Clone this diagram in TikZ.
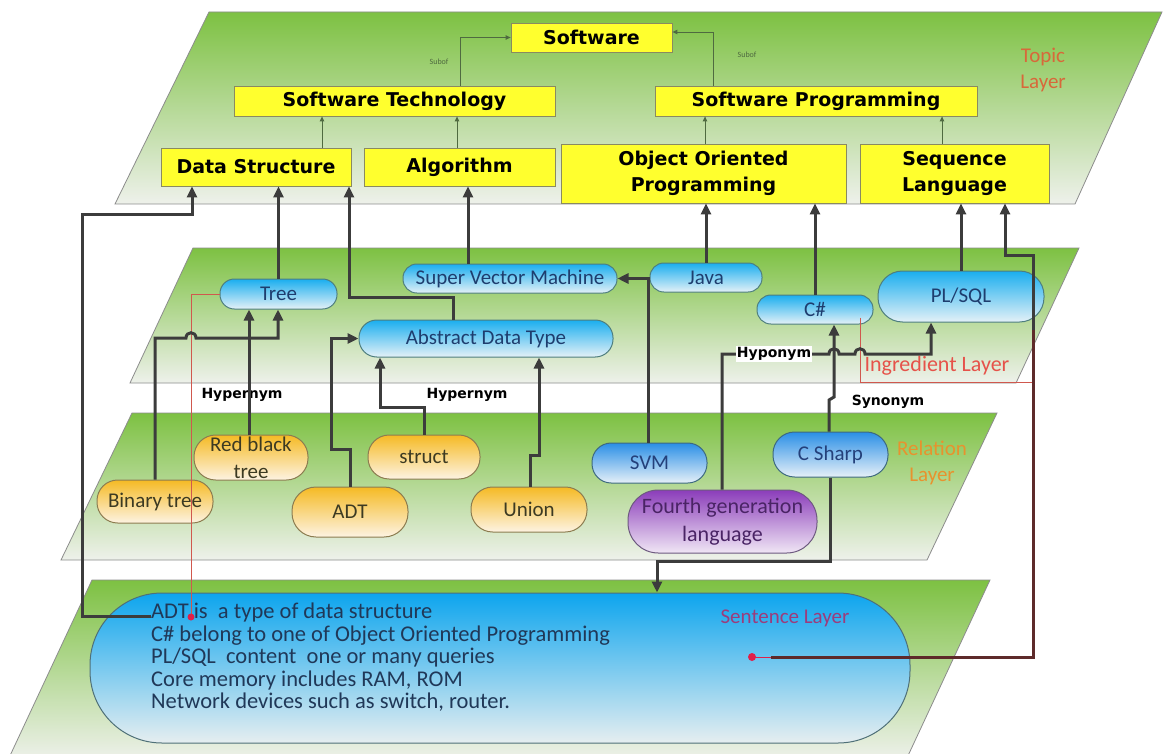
\documentclass[tikz,border=0pt]{standalone}
\usepackage{fontspec}
\setmainfont{Carlito}
\newfontfamily\headfont{DejaVu Sans}
\usetikzlibrary{arrows.meta}

\definecolor{planetop}{HTML}{7DC142}
\definecolor{planemid}{HTML}{ADD586}
\definecolor{planebot}{HTML}{EEF1EB}
\definecolor{planeedge}{HTML}{8C8C8C}
\definecolor{yfill}{HTML}{FFFF2E}
\definecolor{yedge}{HTML}{8A8A60}
\definecolor{bluetop}{HTML}{1AAEEF}
\definecolor{bluebot}{HTML}{E4F1F7}
\definecolor{blueedge}{HTML}{4E7E7E}
\definecolor{bluetext}{HTML}{1E3D6E}
\definecolor{orgtop}{HTML}{F5BA24}
\definecolor{orgbot}{HTML}{FDF3E2}
\definecolor{orgedge}{HTML}{8C7C50}
\definecolor{orgtext}{HTML}{3C3A22}
\definecolor{rbtop}{HTML}{2A8FE6}
\definecolor{rbbot}{HTML}{E6F0F8}
\definecolor{rbedge}{HTML}{3E6A80}
\definecolor{rbtext}{HTML}{24407A}
\definecolor{purtop}{HTML}{8B3DBA}
\definecolor{purbot}{HTML}{F0E6F5}
\definecolor{puredge}{HTML}{6E5A80}
\definecolor{purtext}{HTML}{4A2465}
\definecolor{senttop}{HTML}{0DA5EE}
\definecolor{sentbot}{HTML}{E6EEF0}
\definecolor{sentedge}{HTML}{4F7078}
\definecolor{senttext}{HTML}{203858}
\definecolor{linegrey}{HTML}{3C3C3C}
\definecolor{maroonline}{HTML}{5E2A2A}
\definecolor{redline}{HTML}{D0584E}
\definecolor{reddot}{HTML}{E0204A}
\definecolor{subofgreen}{HTML}{4F6A40}
\definecolor{topiclab}{HTML}{D8683A}
\definecolor{rellab}{HTML}{E8922E}
\definecolor{inglab}{HTML}{E6524A}
\definecolor{sentlab}{HTML}{9C3C7C}

\begin{document}
\begin{tikzpicture}[x=1pt,y=-1pt,
  plane/.style={draw=planeedge, line width=0.8pt, top color=planetop, middle color=planemid, bottom color=planebot},
  tbox/.style 2 args={draw=yedge, fill=yfill, line width=0.8pt, minimum width=#1pt, minimum height=#2pt,
    inner sep=0pt, align=center, font=\headfont\bfseries\fontsize{19}{26}\selectfont},
  pill/.style 2 args={minimum width=#1pt, minimum height=#2pt, rounded corners=#2*0.48pt,
    inner sep=0pt, align=center, line width=1pt},
  ingr/.style={top color=bluetop, bottom color=bluebot, draw=blueedge, text=bluetext, font=\fontsize{21}{24}\selectfont},
  rel/.style={top color=orgtop, bottom color=orgbot, draw=orgedge, text=orgtext, font=\fontsize{21}{27}\selectfont},
  relblue/.style={top color=rbtop, bottom color=rbbot, draw=rbedge, text=rbtext, font=\fontsize{21}{24}\selectfont},
  relpurple/.style={top color=purtop, bottom color=purbot, draw=puredge, text=purtext, font=\fontsize{22}{28}\selectfont},
  layerlab/.style={inner sep=0pt, align=center, font=\fontsize{21}{26}\selectfont},
  rellabel/.style={inner sep=1pt, font=\headfont\bfseries\fontsize{14}{16}\selectfont},
  suboflab/.style={inner sep=0pt, text=subofgreen, font=\fontsize{8}{9}\selectfont},
  arr/.style={draw=linegrey, line width=3pt, -{Triangle[length=11pt,width=10pt]}},
  thinarr/.style={draw=subofgreen, line width=0.9pt, -{Triangle[length=5pt,width=4.5pt]}},
  redthin/.style={draw=redline, line width=0.9pt}
]
\useasboundingbox (0,0) rectangle (1167,754);
\fill[white] (0,0) rectangle (1167,754);
\clip (0,0) rectangle (1167,754);

% the four layers
\draw[plane] (209,12) -- (1162,12) -- (1075,204) -- (115,204) -- cycle;
\draw[plane] (193,248) -- (1079,248) -- (1016,383) -- (130,383) -- cycle;
\draw[plane] (132,413) -- (997,413) -- (927,560) -- (61,560) -- cycle;
\draw[plane] (92,580) -- (990,580) -- (906,760) -- (8,760) -- cycle;

% sentence layer
\node[pill={820}{150}, top color=senttop, bottom color=sentbot, draw=sentedge] (sent) at (500,668) {};
\node[anchor=north west, inner sep=0pt, align=left, text=senttext, font=\fontsize{22.5}{22.5}\selectfont] (stext) at (151,603)
  {ADT is\ \ a type of data structure\\
   C\# belong to one of Object Oriented Programming\\
   PL/SQL\ \ content\ \ one or many queries\\
   Core memory includes RAM, ROM\\
   Network devices such as switch, router.};

% topic layer
\node[tbox={161}{29}] (sw) at (591.5,37.5) {Software};
\node[tbox={321}{30}] (st) at (394.5,101) {Software Technology};
\node[tbox={322}{30}] (sp) at (816,101) {Software Programming};
\node[tbox={190}{38}] (ds) at (256,167) {Data Structure};
\node[tbox={191}{38}] (alg) at (459.5,167) {Algorithm};
\node[tbox={285}{59}] (oop) at (703.5,173.5) {Object Oriented\\Programming};
\node[tbox={189}{59}] (seq) at (954.5,173.5) {Sequence\\Language};

% ingredient layer
\node[pill={117}{30}, ingr] (tree) at (278.5,294) {Tree};
\node[pill={214}{29}, ingr] (svmI) at (510,278.5) {Super Vector Machine};
\node[pill={254}{37}, ingr] (adtI) at (486,338.5) {Abstract Data Type};
\node[pill={112}{29}, ingr] (java) at (706,277.5) {Java};
\node[pill={116}{29}, ingr] (cs) at (815,309.5) {C\#};
\node[pill={166}{51}, ingr] (plsql) at (961,296.5) {PL/SQL};

% relation layer
\node[pill={114}{45}, rel] (rbt) at (251,457.5) {Red black\\tree};
\node[pill={116}{43}, rel] (bt) at (155,501.5) {Binary tree};
\node[pill={112}{44}, rel] (struct) at (424,457) {struct};
\node[pill={116}{50}, rel] (adtR) at (350,512) {ADT};
\node[pill={116}{45}, rel] (union) at (529,509.5) {Union};
\node[pill={115}{40}, relblue] (svmR) at (649.5,463) {SVM};
\node[pill={189}{63}, relpurple] (fgl) at (722.5,521.5) {Fourth generation\\language};
\node[pill={115}{45}, relblue] (csharp) at (830.5,454.5) {C Sharp};

% layer names
\node[layerlab, text=topiclab] (topicname) at (1043,70) {Topic\\Layer};
\node[layerlab, text=inglab, font=\fontsize{22}{26}\selectfont] (ingname) at (937,366) {Ingredient Layer};
\node[layerlab, text=rellab] (relname) at (932,463) {Relation\\Layer};
\node[layerlab, text=sentlab] (sentname) at (785,618) {Sentence Layer};

% relation names between layers
\node[rellabel] (hyper1) at (242,395) {Hypernym};
\node[rellabel] (hyper2) at (467,395) {Hypernym};
\node[rellabel] (synlab) at (888,402) {Synonym};
\node[suboflab] (subof1) at (439,62) {Subof};
\node[suboflab] (subof2) at (747,55) {Subof};

% Subof links inside the topic layer
\draw[thinarr] (st.north -| 460,0) -- (460,37.5) -- (sw.west);
\draw[thinarr] (sp.north -| 713,0) -- (713,32) -- (sw.east |- 0,32);
\draw[thinarr] (ds.north -| 322,0) -- (st.south -| 322,0);
\draw[thinarr] (alg.north -| 457,0) -- (st.south -| 457,0);
\draw[thinarr] (oop.north -| 705,0) -- (sp.south -| 705,0);
\draw[thinarr] (seq.north -| 942,0) -- (sp.south -| 942,0);

% thin red guides
\draw[redthin] (tree.west) -- (191,294) -- (191,617);
\draw[redthin] (cs.south -| 860,0) ++(0,-7) -- (860,382) -- (1033,382);

% ingredient -> topic
\draw[arr] (stext.west |- 0,616) -- (82,616) -- (82,215) -- (192,215) -- (ds.south -| 192,0);
\draw[arr] (tree.north) -- (tree.north |- ds.south);
\draw[arr] (adtI.north -| 453,0) -- (453,297) -- (349,297) -- (ds.south -| 349,0);
\draw[arr] (svmI.north -| 468,0) -- (alg.south -| 468,0);
\draw[arr] (java.north) -- (java.north |- oop.south);
\draw[arr] (cs.north) -- (cs.north |- oop.south);
\draw[arr] (plsql.north) -- (plsql.north |- seq.south);

% relation -> ingredient
\draw[arr] (bt.north) -- (155,338) -- (186,338) .. controls (186,331) and (196,331) .. (196,338) -- (278,338) -- (tree.south -| 278,0);
\draw[arr] (rbt.north -| 249,0) -- (tree.south -| 249,0);
\draw[arr] (adtR.north) -- (350,449) -- (331,449) -- (331,338.5) -- (adtI.west);
\draw[arr] (struct.north) -- (424,407) -- (380,407) -- (adtI.south -| 380,0);
\draw[arr] (union.north -| 530,0) -- (530,455) -- (539,455) -- (adtI.south -| 539,0);
\draw[arr] (svmR.north -| 648,0) -- (648,278.5) -- (svmI.east);
\draw[arr] (fgl.north -| 722,0) -- (722,354) -- (829,354) .. controls (829,347) and (839,347) .. (839,354)
  -- (855,354) .. controls (855,347) and (865,347) .. (865,354) -- (931,354) -- (plsql.south -| 931,0);
\draw[arr] (csharp.north -| 829,0) -- (829,400) -- (834,397) -- (cs.south -| 834,0);

% relation -> sentence
\draw[arr] (csharp.south) -- (830.5,561) -- (657,561) -- (sent.north -| 657,0);

% sentence -> topic
\coordinate (sdot) at (752,657);
\coordinate (mjoin) at (1033,330);
\draw[draw=maroonline, line width=3pt] (771,657) -- (1033,657) -- (mjoin);
\draw[arr] (mjoin) -- (1033,255) -- (1005,255) -- (seq.south -| 1005,0);
\draw[draw=reddot, line width=0.8pt] (sdot) -- (771,657);
\fill[reddot] (sdot) circle (4pt);

\node[rellabel, fill=white] (hypolab) at (774,354) {Hyponym};
\fill[reddot] (191,617) circle (3.5pt);
\end{tikzpicture}
\end{document}
